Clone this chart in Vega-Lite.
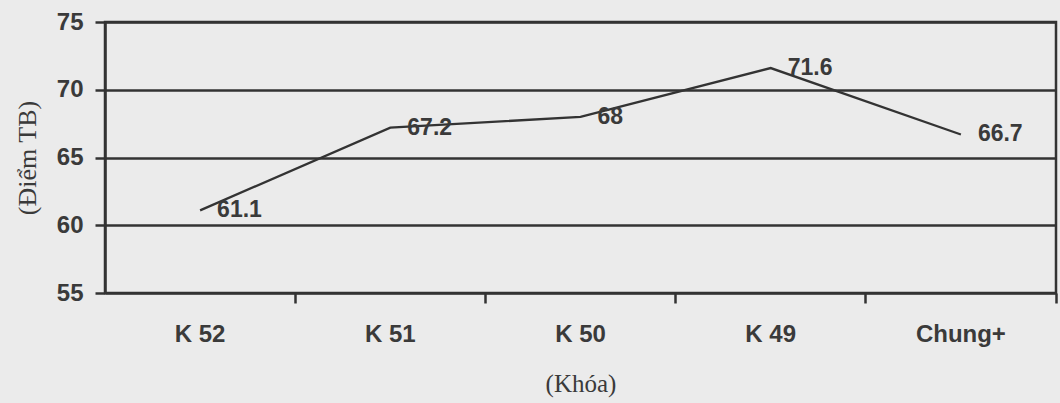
{
  "$schema": "https://vega.github.io/schema/vega-lite/v6.json",
  "autosize": {"type": "none"},
  "width": 951,
  "height": 271,
  "padding": {"left": 105, "top": 22, "right": 4, "bottom": 110},
  "background": "#ebebeb",
  "config": {
    "view": {"stroke": "#333333", "strokeWidth": 2.5},
    "axis": {"labelFont": "Liberation Sans", "titleFont": "Liberation Serif"}
  },
  "data": {
    "values": [
      {"khoa": "K 52", "diem": 61.1},
      {"khoa": "K 51", "diem": 67.2},
      {"khoa": "K 50", "diem": 68},
      {"khoa": "K 49", "diem": 71.6},
      {"khoa": "Chung+", "diem": 66.7}
    ]
  },
  "encoding": {
    "x": {
      "field": "khoa",
      "type": "nominal",
      "sort": null,
      "scale": {"type": "band", "paddingInner": 0, "paddingOuter": 0},
      "axis": {
        "title": "(Khóa)",
        "labelAngle": 0,
        "bandPosition": 1,
        "labelFontSize": 24,
        "labelFontWeight": "bold",
        "labelColor": "#3a3a3a",
        "labelPadding": 19,
        "domain": false,
        "ticks": true,
        "tickSize": 10,
        "tickWidth": 2.5,
        "tickColor": "#333333",
        "grid": false,
        "titleFontSize": 25,
        "titleFontWeight": "normal",
        "titleColor": "#3a3a3a",
        "titlePadding": 25
      }
    },
    "y": {
      "field": "diem",
      "type": "quantitative",
      "scale": {"domain": [55, 75], "nice": false, "zero": false},
      "axis": {
        "title": "(Điểm TB)",
        "values": [55, 60, 65, 70, 75],
        "labelFontSize": 24,
        "labelFontWeight": "bold",
        "labelColor": "#3a3a3a",
        "labelPadding": 12,
        "tickSize": 10,
        "tickWidth": 2.5,
        "tickColor": "#333333",
        "domain": true,
        "domainColor": "#333333",
        "domainWidth": 2.5,
        "grid": true,
        "gridColor": "#333333",
        "gridWidth": 2.5,
        "gridOpacity": 1,
        "titleFontSize": 26,
        "titleFontWeight": "normal",
        "titleColor": "#3a3a3a",
        "titlePadding": 16
      }
    }
  },
  "layer": [
    {"mark": {"type": "line", "color": "#333333", "strokeWidth": 2.3}},
    {
      "mark": {
        "type": "text",
        "align": "left",
        "baseline": "middle",
        "dx": 17,
        "font": "Liberation Sans",
        "fontSize": 23,
        "fontWeight": "bold",
        "color": "#3a3a3a"
      },
      "encoding": {"text": {"field": "diem", "type": "quantitative"}}
    }
  ]
}
